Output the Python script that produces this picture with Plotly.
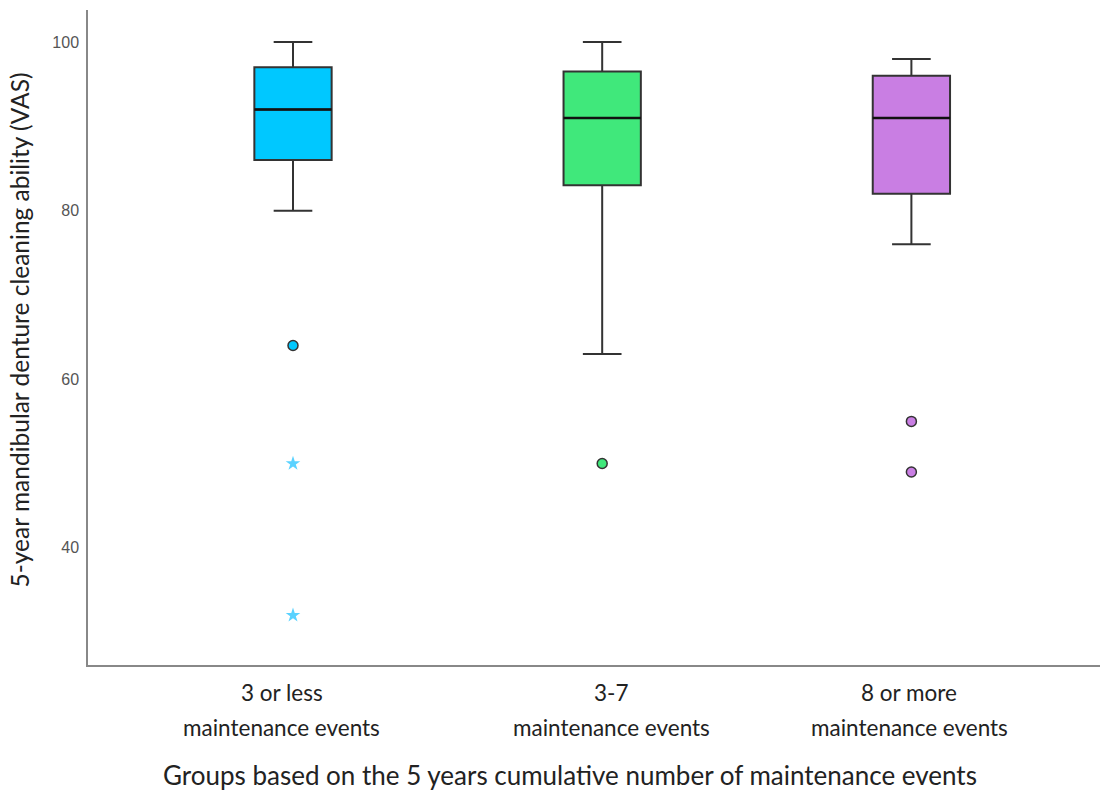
import plotly.graph_objects as go

groups_line1 = ["3 or less", "3-7", "8 or more"]
groups_line2 = ["maintenance events", "maintenance events", "maintenance events"]
positions = [0, 1, 2]
label_positions = [-0.036, 1.03, 1.993]
q1 = [86, 83, 82]
median = [92, 91, 91]
q3 = [97, 96.5, 96]
lower = [80, 63, 76]
upper = [100, 100, 98]
fill_colors = ["#00C8FF", "#40E87B", "#C97EE3"]
outlier_x = [0, 1, 2, 2]
outlier_y = [64, 50, 55, 49]
outlier_colors = ["#00C8FF", "#40E87B", "#C97EE3", "#C97EE3"]
extreme_x = [0, 0]
extreme_y = [50, 32]

y_ticks = [40, 60, 80, 100]

fig = go.Figure()
BOXW = 0.25
for i in range(3):
    fig.add_trace(go.Box(
        x=[positions[i]], q1=[q1[i]], median=[median[i]], q3=[q3[i]],
        lowerfence=[lower[i]], upperfence=[upper[i]],
        width=BOXW, whiskerwidth=0.5,
        fillcolor=fill_colors[i], line=dict(color="#333333", width=2),
        boxpoints=False, showlegend=False, hoverinfo="skip"))
    fig.add_trace(go.Scatter(
        x=[positions[i] - BOXW / 2, positions[i] + BOXW / 2], y=[median[i], median[i]],
        mode="lines", line=dict(color="#111111", width=2.5), showlegend=False, hoverinfo="skip"))

fig.add_trace(go.Scatter(
    x=outlier_x, y=outlier_y, mode="markers",
    marker=dict(symbol="circle", size=10, color=outlier_colors, line=dict(color="#333333", width=1.5)),
    showlegend=False))
fig.add_trace(go.Scatter(
    x=extreme_x, y=extreme_y, mode="markers",
    marker=dict(symbol="star", size=11, color="#5AD2FF", line=dict(width=0)),
    showlegend=False))

TXT = "#222222"
FONT = "Lato"
annotations = []
for i in range(3):
    annotations.append(dict(x=label_positions[i], y=0, xref="x", yref="paper", yshift=-27, yanchor="middle",
                            text=groups_line1[i], showarrow=False, font=dict(family=FONT, size=22.5, color=TXT)))
    annotations.append(dict(x=label_positions[i], y=0, xref="x", yref="paper", yshift=-62, yanchor="middle",
                            text=groups_line2[i], showarrow=False, font=dict(family=FONT, size=22.5, color=TXT)))
annotations.append(dict(x=0.476, y=0, xref="paper", yref="paper", yshift=-110, yanchor="middle",
                        text="Groups based on the 5 years cumulative number of maintenance events",
                        showarrow=False, font=dict(family=FONT, size=26, color=TXT)))
annotations.append(dict(x=-0.068, y=0.511, xref="paper", yref="paper", xanchor="center", yanchor="middle",
                        textangle=-90,
                        text="5-year mandibular denture cleaning ability (VAS)",
                        showarrow=False, font=dict(family=FONT, size=24.5, color=TXT)))

fig.update_layout(
    width=1112, height=794,
    margin=dict(l=88, r=12, t=10, b=129),
    plot_bgcolor="white", paper_bgcolor="white",
    annotations=annotations,
    xaxis=dict(range=[-0.663, 2.61], showticklabels=False, showgrid=False, zeroline=False,
               showline=True, linecolor="#888888", linewidth=1.5, ticks=""),
    yaxis=dict(range=[26.1, 103.8], tickvals=y_ticks, showgrid=False, zeroline=False,
               showline=True, linecolor="#888888", linewidth=1.5, ticks="",
               ticklabelstandoff=4,
               tickfont=dict(family="Liberation Sans", size=16, color="#555555")),
)

fig.write_html("out.html")
